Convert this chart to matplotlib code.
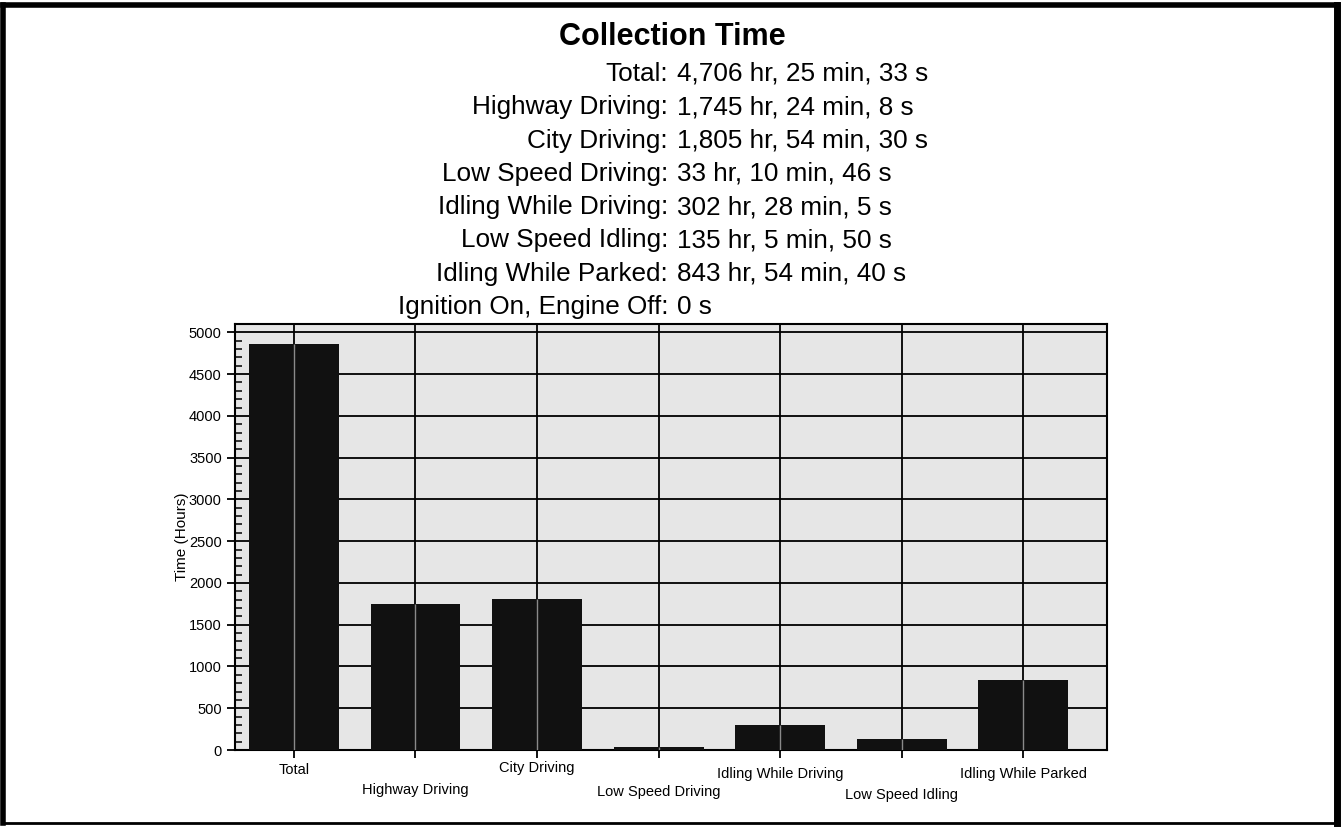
import matplotlib
matplotlib.use("Agg")
import matplotlib.pyplot as plt
from matplotlib.lines import Line2D
from matplotlib.ticker import MultipleLocator

# категории и значения (часы)
categories = ["Total", "Highway Driving", "City Driving", "Low Speed Driving",
              "Idling While Driving", "Low Speed Idling", "Idling While Parked"]
hours = [4866.0, 1745.4, 1805.9, 33.2, 302.5, 135.1, 843.9]

# сводка над графиком
summary_names = ["Total:", "Highway Driving:", "City Driving:", "Low Speed Driving:",
                 "Idling While Driving:", "Low Speed Idling:", "Idling While Parked:",
                 "Ignition On, Engine Off:"]
summary_values = ["4,706 hr, 25 min, 33 s", "1,745 hr, 24 min, 8 s", "1,805 hr, 54 min, 30 s",
                  "33 hr, 10 min, 46 s", "302 hr, 28 min, 5 s", "135 hr, 5 min, 50 s",
                  "843 hr, 54 min, 40 s", "0 s"]

# отступы подписей оси X (ступенчатое расположение)
label_pads = [3, 18, 2, 19, 6.5, 21, 6.5]

plt.rcParams["font.family"] = ["Liberation Sans", "DejaVu Sans"]

W, H = 1344, 831
fig = plt.figure(figsize=(W / 100, H / 100), dpi=100)


def fx(px):
    return px / W


def fy(py):
    return 1 - py / H


# заголовок и текстовая сводка
fig.text(fx(672), fy(45), "Collection Time", ha="center", va="baseline",
         fontsize=22, fontweight="bold")
for i, (n, v) in enumerate(zip(summary_names, summary_values)):
    yb = fy(81 + i * 33.3)
    fig.text(fx(668), yb, n, ha="right", va="baseline", fontsize=18.8)
    fig.text(fx(677), yb, v, ha="left", va="baseline", fontsize=18.8)

ax = fig.add_axes([fx(235), fy(750), fx(1107) - fx(235), fy(324) - fy(750)])
ax.set_facecolor("#e6e6e6")

x = list(range(len(categories)))
ax.bar(x, hours, width=0.74, color="#111111", zorder=3)
# светлые полосы внутри столбцов (как на скане)
ax.vlines(x, 0, hours, colors="#8a8a8a", linewidth=1, zorder=4)

ax.set_xlim(-0.485, 6.69)
ax.set_ylim(0, 5100)
ax.yaxis.set_major_locator(MultipleLocator(500))
ax.yaxis.set_minor_locator(MultipleLocator(100))
ax.grid(True, which="major", color="black", linewidth=1.3, zorder=1)
ax.set_axisbelow(True)

ax.set_xticks(x)
ax.set_xticklabels(categories, fontsize=10.5)
for t, p in zip(ax.xaxis.get_major_ticks(), label_pads):
    t.set_pad(p)
ax.tick_params(axis="x", direction="out", length=6, width=1.3)
ax.tick_params(axis="y", which="major", direction="out", length=6, width=1.3, labelsize=10.5)
ax.tick_params(axis="y", which="minor", direction="in", length=5, width=1.1)

for s in ax.spines.values():
    s.set_linewidth(1.5)

ax.set_ylabel("Time (Hours)", fontsize=11, labelpad=0)

# рамка страницы
for xs, ys, lw in [([3, 1337], [5, 5], 4), ([3, 3], [5, 823], 4),
                   ([1337, 1337], [5, 823], 5), ([3, 1337], [823, 823], 2)]:
    fig.add_artist(Line2D([fx(a) for a in xs], [fy(b) for b in ys],
                          color="black", linewidth=lw, transform=fig.transFigure))

fig.savefig("out.png", dpi=100)
